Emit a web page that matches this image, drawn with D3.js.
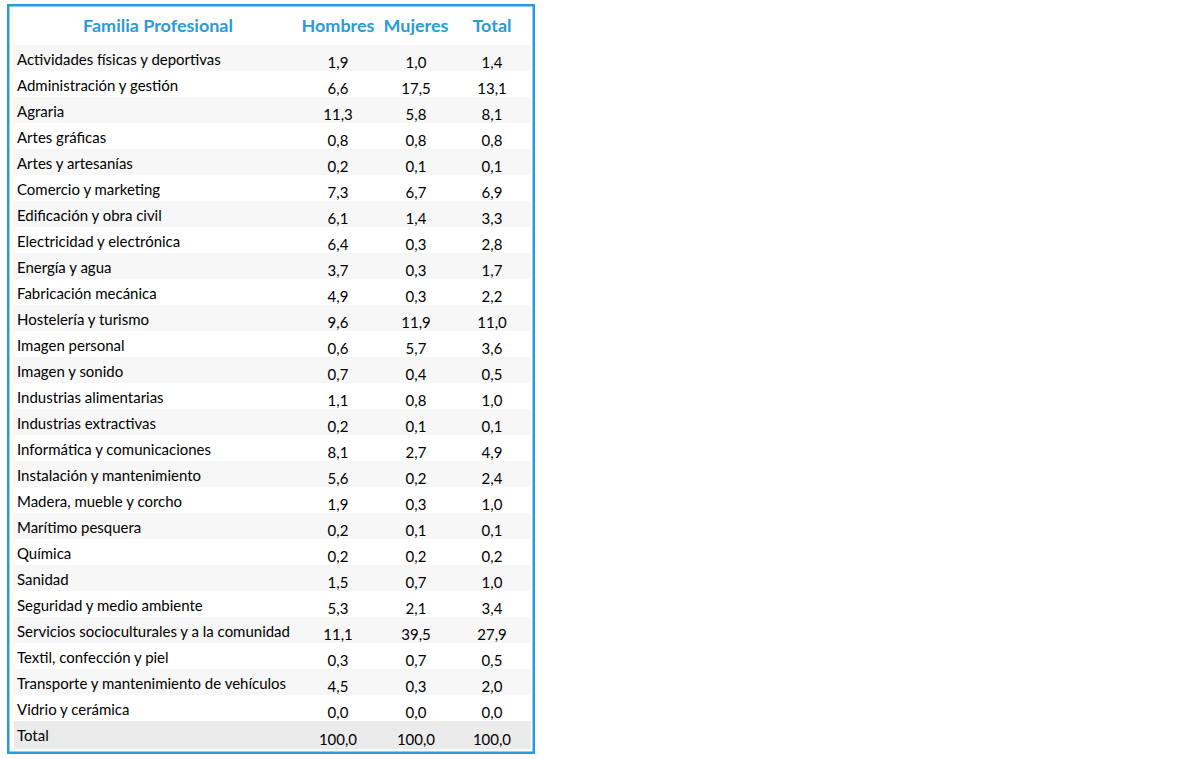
<!DOCTYPE html>
<html>
<head>
<meta charset="utf-8">
<script src="https://cdn.jsdelivr.net/npm/d3@7"></script>
<style>
  body { margin: 0; background: #fff; }
  svg text { font-family: Lato, "Open Sans", sans-serif; }
</style>
</head>
<body>
<div id="chart"></div>
<script>
var w = 1180;
var h = 759;

// Data
var columns = ["Hombres", "Mujeres", "Total"];
var familias = ["Actividades físicas y deportivas", "Administración y gestión", "Agraria", "Artes gráficas",
  "Artes y artesanías", "Comercio y marketing", "Edificación y obra civil", "Electricidad y electrónica",
  "Energía y agua", "Fabricación mecánica", "Hostelería y turismo", "Imagen personal", "Imagen y sonido",
  "Industrias alimentarias", "Industrias extractivas", "Informática y comunicaciones",
  "Instalación y mantenimiento", "Madera, mueble y corcho", "Marítimo pesquera", "Química", "Sanidad",
  "Seguridad y medio ambiente", "Servicios socioculturales y a la comunidad", "Textil, confección y piel",
  "Transporte y mantenimiento de vehículos", "Vidrio y cerámica"];
var hombres = [1.9, 6.6, 11.3, 0.8, 0.2, 7.3, 6.1, 6.4, 3.7, 4.9, 9.6, 0.6, 0.7, 1.1, 0.2, 8.1, 5.6, 1.9, 0.2, 0.2, 1.5, 5.3, 11.1, 0.3, 4.5, 0.0];
var mujeres = [1.0, 17.5, 5.8, 0.8, 0.1, 6.7, 1.4, 0.3, 0.3, 0.3, 11.9, 5.7, 0.4, 0.8, 0.1, 2.7, 0.2, 0.3, 0.1, 0.2, 0.7, 2.1, 39.5, 0.7, 0.3, 0.0];
var total = [1.4, 13.1, 8.1, 0.8, 0.1, 6.9, 3.3, 2.8, 1.7, 2.2, 11.0, 3.6, 0.5, 1.0, 0.1, 4.9, 2.4, 1.0, 0.1, 0.2, 1.0, 3.4, 27.9, 0.5, 2.0, 0.0];
var totalLabel = "Total";
var totalRow = [100.0, 100.0, 100.0];

var rows = familias.map(function(f, i) {
  return { name: f, values: [hombres[i], mujeres[i], total[i]] };
});

var fmt = function(v) { return d3.format(".1f")(v).replace(".", ","); };

var blue = "#2a9bd8";
var left = 14, right = 531;

var yScale = d3.scaleBand().domain(familias).range([45, 721]).padding(0);
var xScale = d3.scaleOrdinal().domain(columns).range([338, 416, 492]);

var svg = d3.select("#chart").append("svg").attr("width", w).attr("height", h);

// Fit font sizes to the reference widths
function fitSize(text, weight, target) {
  var t = svg.append("text").attr("font-size", 100).attr("font-weight", weight).text(text);
  var len = t.node().getComputedTextLength();
  t.remove();
  return 100 * target / len;
}
var bodySize = fitSize("Servicios socioculturales y a la comunidad", "normal", 273);
var headSize = fitSize("Familia Profesional", "bold", 150);

// Row shading
svg.selectAll("rect.band")
  .data(rows.filter(function(d, i) { return i % 2 === 0; }))
  .enter().append("rect")
  .attr("class", "band")
  .attr("x", left).attr("width", right - left)
  .attr("y", function(d) { return yScale(d.name); })
  .attr("height", yScale.bandwidth())
  .attr("fill", "#f7f7f7");

var totalTop = 721, totalH = 28;
svg.append("rect").attr("x", left).attr("width", right - left)
  .attr("y", totalTop).attr("height", totalH).attr("fill", "#ebebeb");

// Header
svg.append("text").attr("x", 158).attr("y", 32).attr("text-anchor", "middle")
  .attr("font-size", headSize).attr("font-weight", "bold").attr("fill", blue)
  .text("Familia Profesional");
svg.selectAll("text.colhead")
  .data(columns).enter().append("text")
  .attr("class", "colhead")
  .attr("x", function(d) { return xScale(d); })
  .attr("y", 32).attr("text-anchor", "middle")
  .attr("font-size", headSize).attr("font-weight", "bold").attr("fill", blue)
  .text(function(d) { return d; });

// Body rows
var g = svg.selectAll("g.row").data(rows).enter().append("g")
  .attr("class", "row")
  .attr("transform", function(d) { return "translate(0," + yScale(d.name) + ")"; });
g.append("text").attr("x", 17).attr("y", 19.5)
  .attr("font-size", bodySize).attr("fill", "#000")
  .text(function(d) { return d.name; });
g.selectAll("text.val")
  .data(function(d) { return d.values; })
  .enter().append("text")
  .attr("class", "val")
  .attr("x", function(d, i) { return xScale(columns[i]); })
  .attr("y", 22.5).attr("text-anchor", "middle")
  .attr("font-size", bodySize).attr("fill", "#000")
  .text(fmt);

// Total row
svg.append("text").attr("x", 17).attr("y", totalTop + 19.5)
  .attr("font-size", bodySize).attr("fill", "#000").text(totalLabel);
svg.selectAll("text.tot")
  .data(totalRow).enter().append("text")
  .attr("class", "tot")
  .attr("x", function(d, i) { return xScale(columns[i]); })
  .attr("y", totalTop + 23.5).attr("text-anchor", "middle")
  .attr("font-size", bodySize).attr("fill", "#000")
  .text(fmt);

// Frame
svg.append("rect").attr("x", 8.25).attr("y", 5.25).attr("width", 525.5).attr("height", 747.5)
  .attr("fill", "none").attr("stroke", blue).attr("stroke-width", 2.5);
</script>
</body>
</html>
